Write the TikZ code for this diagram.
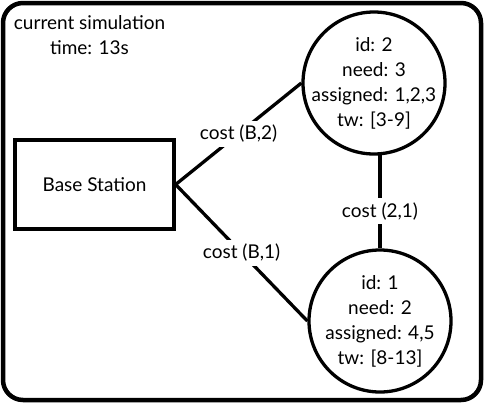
\documentclass[tikz,border=0pt]{standalone}
\usepackage{fontspec}
\setmainfont{Lato}
\begin{document}
\begin{tikzpicture}[x=1pt,y=-1pt,
  every node/.style={font=\fontsize{19}{25}\selectfont},
  frame/.style={draw=black,line width=4.5pt,rounded corners=20pt},
  stationbox/.style={draw=black,line width=3.3pt,minimum width=159pt,minimum height=89pt,inner sep=0pt},
  sensor/.style={draw=black,line width=3.3pt,circle,minimum size=142pt,inner sep=0pt},
  info/.style={align=center,inner sep=0pt},
  link/.style={draw=black,line width=3.3pt},
  cost/.style={fill=white,inner sep=4pt}]
\useasboundingbox (0,0) rectangle (487,407);
\draw[frame] (3,3) rectangle (481,400);
\node[info] (simtime) at (89.5,35) {current simulation\\time: 13s};
\node[stationbox] (bs) at (94.5,184.5) {Base Station};
\node[sensor] (n2) at (374,83) {};
\node[info] (n2t) at (n2) {id: 2\\need: 3\\assigned: 1,2,3\\tw: [3-9]};
\node[sensor] (n1) at (380,321) {};
\node[info] (n1t) at (n1) {id: 1\\need: 2\\assigned: 4,5\\tw: [8-13]};
\coordinate (n2foot) at ([yshift=0.3pt]n2.south -| n1.north);
\draw[link] (bs.east) -- (n2.west) node[cost,pos=0.5] (c2) {cost (B,2)};
\draw[link] (bs.east) -- (n1.west) node[cost,pos=0.5] (c1) {cost (B,1)};
\draw[link] (n2foot) -- (n1.north) node[cost,pos=0.6] (c21) {cost (2,1)};
\end{tikzpicture}
\end{document}
